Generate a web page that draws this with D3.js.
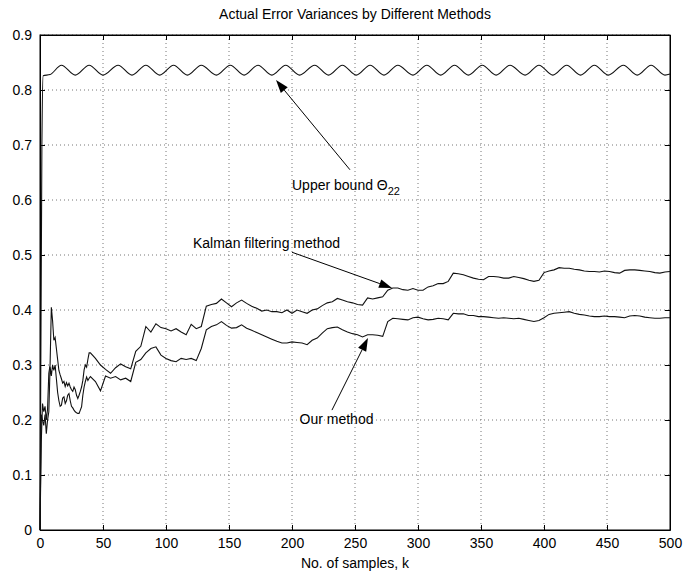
<!DOCTYPE html>
<html lang="en">
<head>
<meta charset="utf-8">
<title>Actual Error Variances by Different Methods</title>
<script src="https://d3js.org/d3.v7.min.js"></script>
<style>
  body { margin: 0; background: #fff; font-family: Arial, "Liberation Sans", sans-serif; }
  .axis text { font-size: 14px; fill: #000; }
  .grid line { stroke: #777; stroke-dasharray: 1,3; }
</style>
</head>
<body>
<script>
// ---- data ----
var xTicks = [0, 50, 100, 150, 200, 250, 300, 350, 400, 450, 500];
var yTicks = [0, 0.1, 0.2, 0.3, 0.4, 0.5, 0.6, 0.7, 0.8, 0.9];

// sample index k shared by the two error curves
var kSamples = [0,1,2,3,4,5,6,7,8,9,10,11,12,13,14,15,16,17,18,19,20,
  21,22,23,24,25,26,27,28,29,30,31,32,33,34,35,36,37,38,39,40,
  44,48,52,56,60,64,68,72,76,80,84,88,92,96,100,104,108,112,116,120,
  124,128,132,136,140,144,148,152,156,160,164,168,172,176,180,184,188,192,196,200,
  204,208,212,216,220,224,228,232,236,240,244,248,252,256,260,264,268,272,276,280,
  284,288,292,296,300,304,308,312,316,320,324,328,332,336,340,344,348,352,356,360,
  364,368,372,376,380,384,388,392,396,400,404,408,412,416,420,424,428,432,436,440,
  444,448,452,456,460,464,468,472,476,480,484,488,492,496,500];

var kalman = [0,0.16,0.23,0.215,0.225,0.2,0.22,0.285,0.3,0.405,0.38,
  0.345,0.35,0.33,0.31,0.29,0.282,0.275,0.267,0.27,0.261,
  0.268,0.262,0.267,0.26,0.255,0.252,0.26,0.255,0.245,0.239,
  0.245,0.252,0.26,0.272,0.291,0.3,0.296,0.31,0.322,0.322,
  0.312,0.3,0.292,0.285,0.295,0.302,0.297,0.293,0.325,0.334,
  0.37,0.36,0.375,0.368,0.366,0.362,0.366,0.36,0.355,0.374,
  0.366,0.37,0.407,0.41,0.412,0.42,0.413,0.406,0.413,0.418,
  0.412,0.407,0.403,0.398,0.4,0.397,0.397,0.395,0.4,0.394,
  0.4,0.397,0.394,0.4,0.402,0.408,0.413,0.415,0.421,0.418,
  0.415,0.413,0.41,0.409,0.422,0.42,0.422,0.424,0.436,0.44,
  0.44,0.437,0.436,0.439,0.436,0.436,0.442,0.444,0.448,0.448,
  0.452,0.467,0.466,0.464,0.461,0.458,0.456,0.455,0.461,0.461,
  0.46,0.458,0.458,0.461,0.459,0.457,0.454,0.452,0.454,0.468,
  0.471,0.473,0.477,0.476,0.476,0.474,0.473,0.471,0.47,0.47,
  0.469,0.471,0.47,0.468,0.467,0.472,0.473,0.473,0.472,0.471,
  0.47,0.468,0.467,0.469,0.47];

var ours = [0,0.21,0.2,0.19,0.21,0.175,0.2,0.215,0.297,0.28,0.3,
  0.29,0.3,0.275,0.25,0.235,0.225,0.227,0.24,0.242,0.23,
  0.235,0.245,0.248,0.235,0.225,0.222,0.218,0.215,0.213,0.212,
  0.212,0.218,0.224,0.245,0.26,0.27,0.278,0.272,0.276,0.279,
  0.27,0.253,0.28,0.276,0.279,0.273,0.276,0.27,0.305,0.31,
  0.322,0.33,0.333,0.318,0.312,0.308,0.306,0.312,0.31,0.312,
  0.308,0.33,0.364,0.37,0.373,0.379,0.372,0.367,0.368,0.373,
  0.367,0.363,0.359,0.355,0.351,0.347,0.343,0.34,0.34,0.342,
  0.341,0.34,0.337,0.345,0.349,0.358,0.366,0.368,0.369,0.364,
  0.36,0.357,0.355,0.351,0.355,0.355,0.354,0.352,0.379,0.385,
  0.384,0.383,0.382,0.386,0.387,0.384,0.382,0.383,0.385,0.384,
  0.382,0.394,0.393,0.393,0.39,0.39,0.388,0.388,0.387,0.386,
  0.385,0.386,0.385,0.384,0.385,0.383,0.381,0.379,0.381,0.386,
  0.392,0.394,0.395,0.396,0.397,0.394,0.392,0.391,0.389,0.388,
  0.388,0.389,0.388,0.388,0.387,0.386,0.389,0.39,0.389,0.387,
  0.386,0.385,0.385,0.386,0.386];

// upper bound: start-up, then peaks and troughs of the ripple
var upperK = [0,1.5,2.5,8,17,28,39,50,62,73,84,95,106,117,128,140,151,162,173,184,195,206,
  218,229,240,251,262,273,284,296,307,318,329,340,351,362,373,385,396,407,
  418,429,440,451,463,474,485,496,500];
var upperV = [0,0.7,0.826,0.828,0.845,0.827,0.845,0.827,0.845,0.827,0.845,0.827,0.845,0.827,
  0.845,0.827,0.845,0.827,0.845,0.827,0.845,0.827,0.845,0.827,0.845,0.827,0.845,0.827,
  0.845,0.827,0.845,0.827,0.845,0.827,0.845,0.827,0.845,0.827,0.845,0.827,0.845,0.827,
  0.845,0.827,0.845,0.827,0.845,0.827,0.829];

var labels = ["Upper bound \u0398", "Kalman filtering method", "Our method"];

var margin = {top: 35, right: 25, bottom: 44, left: 40},
    width = 695 - margin.left - margin.right,
    height = 574 - margin.top - margin.bottom;

var svg = d3.select("body").append("svg")
    .attr("width", 695)
    .attr("height", 574);
var g = svg.append("g").attr("transform", "translate(" + margin.left + "," + margin.top + ")");

var x = d3.scaleLinear().domain([0, 500]).range([0, width]);
var y = d3.scaleLinear().domain([0, 0.9]).range([height, 0]);

// grid
var grid = g.append("g").attr("class", "grid");
grid.selectAll(".gx").data(xTicks.slice(1, -1)).enter().append("line")
    .attr("x1", function(d) { return x(d); }).attr("x2", function(d) { return x(d); })
    .attr("y1", 0).attr("y2", height);
grid.selectAll(".gy").data(yTicks.slice(1)).enter().append("line")
    .attr("x1", 0).attr("x2", width)
    .attr("y1", function(d) { return y(d); }).attr("y2", function(d) { return y(d); });

// axes, ticks inward on all sides
var fmt = function(d) { return d === 0 ? "0" : d3.format(".1f")(d); };
g.append("g").attr("class", "axis")
    .attr("transform", "translate(0," + height + ")")
    .call(d3.axisBottom(x).tickValues(xTicks).tickSizeInner(-5).tickSizeOuter(0).tickPadding(8));
g.append("g").attr("class", "axis")
    .call(d3.axisLeft(y).tickValues(yTicks).tickFormat(fmt).tickSizeInner(-5).tickSizeOuter(0).tickPadding(8));
g.append("g").attr("class", "axis")
    .call(d3.axisTop(x).tickValues(xTicks).tickSizeInner(-5).tickSizeOuter(0).tickFormat(""));
g.append("g").attr("class", "axis")
    .attr("transform", "translate(" + width + ",0)")
    .call(d3.axisRight(y).tickValues(yTicks).tickSizeInner(-5).tickSizeOuter(0).tickFormat(""));
g.selectAll(".axis path, .axis line").attr("stroke", "#000");
g.append("rect").attr("width", width).attr("height", height)
    .attr("fill", "none").attr("stroke", "#000");

// curves
var line = d3.line()
    .x(function(d) { return x(d[0]); })
    .y(function(d) { return y(d[1]); });

g.append("path")
    .datum(kSamples.map(function(k, i) { return [k, kalman[i]]; }))
    .attr("fill", "none").attr("stroke", "#111").attr("stroke-width", 1.1)
    .attr("d", line);
g.append("path")
    .datum(kSamples.map(function(k, i) { return [k, ours[i]]; }))
    .attr("fill", "none").attr("stroke", "#111").attr("stroke-width", 1.1)
    .attr("d", line);
g.append("path")
    .datum(upperK.map(function(k, i) { return [k, upperV[i]]; }))
    .attr("fill", "none").attr("stroke", "#111").attr("stroke-width", 1.1)
    .attr("d", line.curve(d3.curveMonotoneX));

// annotations (text anchor and arrow, in data units)
var notes = [
  {text: labels[0], sub: "22", at: [200, 0.618], from: [246, 0.655], to: [187.3, 0.818]},
  {text: labels[1], at: [121.4, 0.513], from: [200, 0.505], to: [279.4, 0.44]},
  {text: labels[2], at: [206, 0.193], from: [231.7, 0.218], to: [260.3, 0.349]}
];

notes.forEach(function(n) {
  var t = g.append("text")
      .attr("x", x(n.at[0])).attr("y", y(n.at[1]))
      .attr("font-size", "14px").attr("fill", "#000")
      .text(n.text);
  if (n.sub) {
    t.append("tspan").attr("dy", 5).attr("font-size", "11px").text(n.sub);
  }
  var x0 = x(n.from[0]), y0 = y(n.from[1]), x1 = x(n.to[0]), y1 = y(n.to[1]);
  var ang = Math.atan2(y1 - y0, x1 - x0), L = 13, W = 4.5;
  var bx = x1 - L * Math.cos(ang), by = y1 - L * Math.sin(ang);
  g.append("line").attr("x1", x0).attr("y1", y0).attr("x2", bx).attr("y2", by)
      .attr("stroke", "#000").attr("stroke-width", 1);
  g.append("path")
      .attr("d", "M" + x1 + "," + y1 +
        "L" + (bx + W * Math.sin(ang)) + "," + (by - W * Math.cos(ang)) +
        "L" + (bx - W * Math.sin(ang)) + "," + (by + W * Math.cos(ang)) + "Z")
      .attr("fill", "#000");
});

// title and axis label
svg.append("text")
    .attr("x", margin.left + width / 2).attr("y", 19)
    .attr("text-anchor", "middle").attr("font-size", "14px")
    .text("Actual Error Variances by Different Methods");
svg.append("text")
    .attr("x", margin.left + width / 2).attr("y", 568)
    .attr("text-anchor", "middle").attr("font-size", "14px")
    .text("No. of samples, k");
</script>
</body>
</html>
